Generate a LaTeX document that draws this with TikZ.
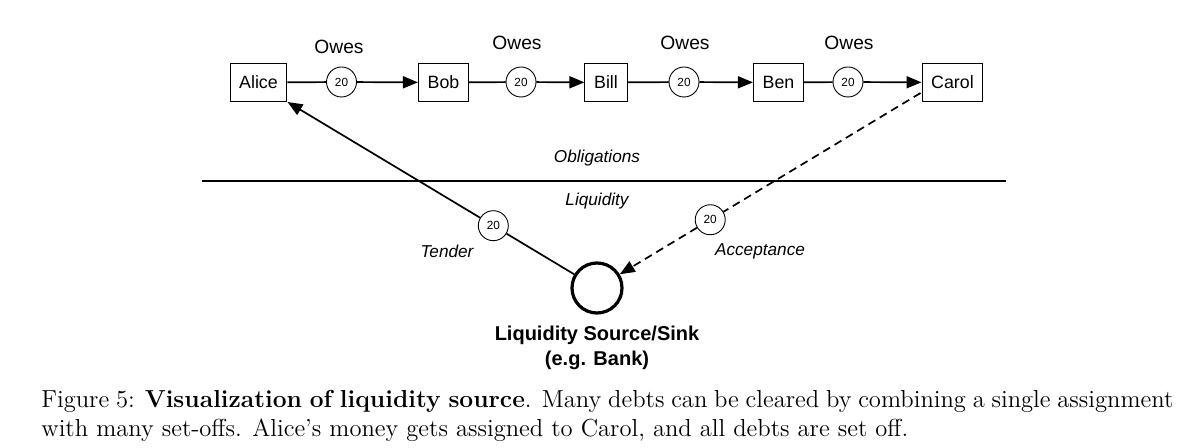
\documentclass[tikz,border=0pt]{standalone}
\usepackage{fontspec}
\newfontfamily\hv{Liberation Sans}
\usetikzlibrary{arrows.meta,calc}
\begin{document}
\begin{tikzpicture}[x=0.5pt,y=-0.5pt,
  person/.style={draw,line width=0.5pt,font=\hv\fontsize{8.9}{10}\selectfont,minimum height=19pt,inner xsep=4.6pt,inner ysep=0pt},
  amt/.style={draw,circle,fill=white,line width=0.45pt,minimum size=15pt,inner sep=0pt,font=\hv\fontsize{5.9}{6}\selectfont},
  owes/.style={font=\hv\fontsize{9.6}{11}\selectfont},
  itl/.style={font=\hv\itshape\fontsize{8.6}{10}\selectfont},
  conn/.style={line width=0.85pt},
  arr/.style={line width=0.85pt,-{Triangle[length=7.5pt,width=6pt]}},
  dsh/.style={line width=0.85pt,dash pattern=on 4pt off 2.6pt,-{Triangle[length=7.5pt,width=6pt]}}]
\useasboundingbox (0,0) rectangle (1200,448);
% people
\node[person] (alice) at (258.5,82.5) {Alice};
\node[person] (bob) at (443.5,82.5) {Bob};
\node[person] (bill) at (606,82.5) {Bill};
\node[person] (ben) at (778.5,82.5) {Ben};
\node[person] (carol) at (952.5,82.5) {Carol};
% amounts
\node[amt] (a1) at (341.5,82) {20};
\node[amt] (a2) at (521,82) {20};
\node[amt] (a3) at (684,82) {20};
\node[amt] (a4) at (848,82) {20};
% owes labels
\node[owes] (o1) at (339,47) {Owes};
\node[owes] (o2) at (517,43) {Owes};
\node[owes] (o3) at (685,43) {Owes};
\node[owes] (o4) at (849,43) {Owes};
\draw[conn] (alice) -- (a1); \draw[arr] (a1) -- (bob);
\draw[conn] (bob) -- (a2); \draw[arr] (a2) -- (bill);
\draw[conn] (bill) -- (a3); \draw[arr] (a3) -- (ben);
\draw[conn] (ben) -- (a4); \draw[arr] (a4) -- (carol);
% divider
\coordinate (dl) at (202,181);
\coordinate (dr) at (1006,181);
\draw[line width=1pt] (dl) -- (dr);
\node[itl] (obl) at (597,158) {Obligations};
\node[itl] (liq) at (597,201) {Liquidity};
% bank
\node[draw,circle,line width=1.6pt,minimum size=25pt,inner sep=0pt] (bank) at (597,288) {};
\node[font=\hv\bfseries\fontsize{10}{12}\selectfont,align=center] (banklbl) at (597,348) {Liquidity Source/Sink\\[0.6pt](e.g. Bank)};
% tender
\coordinate (ase) at (alice.south east);
\node[amt] (t20) at ($(bank)!0.335!(ase)$) {20};
\draw[conn] (bank) -- (t20);
\draw[arr] (t20) -- (ase);
\node[itl] (tender) at (447,251) {Tender};
% acceptance
\coordinate (cs) at ($(carol.south west)+(-1,-9)$);
\node[amt] (c20) at ($(bank)!0.35!(cs)$) {20};
\draw[line width=0.85pt,dash pattern=on 4pt off 2.6pt] (cs) -- (c20);
\draw[dsh] (c20) -- (bank);
\node[itl] (acc) at (760,251) {Acceptance};
% caption
\node[anchor=north west,inner sep=0pt,text width=566pt,align=justify,font=\fontsize{12.3}{14.5}\selectfont] (cap) at (41,390)
{Figure 5: \textbf{Visualization of liquidity source}. Many debts can be cleared by combining a single assignment\linebreak with many set-offs. Alice's money gets assigned to Carol, and all debts are set off.};
\end{tikzpicture}
\end{document}
